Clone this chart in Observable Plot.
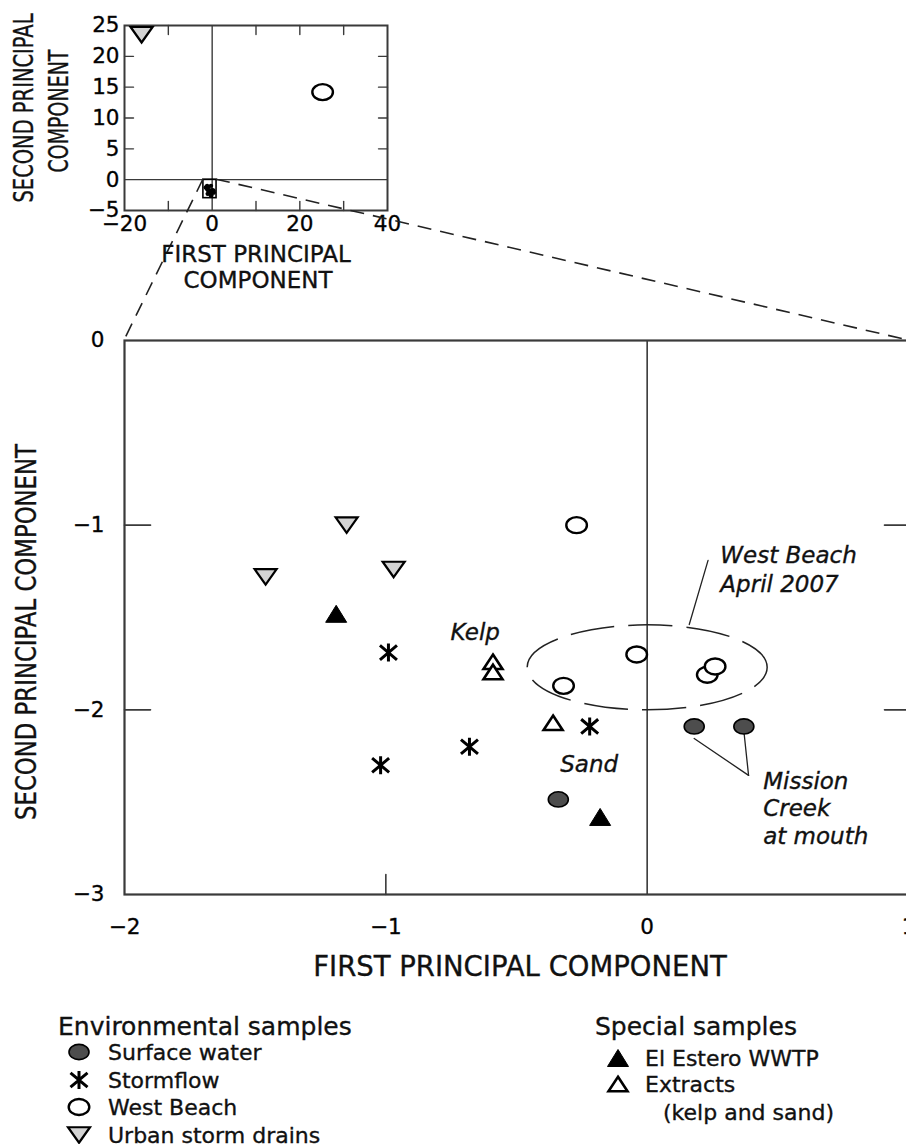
<!DOCTYPE html>
<html>
<head>
<meta charset="utf-8">
<script src="https://cdn.jsdelivr.net/npm/d3@7"></script>
<script src="https://cdn.jsdelivr.net/npm/@observablehq/plot@0.6"></script>
<style>
  html, body { margin: 0; padding: 0; background: #fff; overflow: hidden; }
  #fig { position: relative; width: 906px; height: 1144px; overflow: hidden; background: #fff; }
  #fig > svg { position: absolute; left: 0; top: 0; max-width: none !important; background: transparent !important; overflow: visible; }
  #fig text { stroke: #111; stroke-width: 0.35px; }
</style>
</head>
<body>
<div id="fig"></div>
<script>
// ---------------- DATA ----------------
const groups = ["Surface water", "Stormflow", "West Beach", "Urban storm drains", "El Estero WWTP", "Extracts"];
const surfaceWaterX = [0.18, 0.37, -0.34];
const surfaceWaterY = [-2.09, -2.09, -2.485];
const stormflowX = [-0.99, -0.68, -1.02, -0.22];
const stormflowY = [-1.69, -2.20, -2.30, -2.09];
const westBeachX = [-0.27, -0.04, -0.32, 0.23, 0.26];
const westBeachY = [-1.00, -1.70, -1.87, -1.81, -1.765];
const urbanX = [-1.15, -1.46, -0.97];
const urbanY = [-1.00, -1.28, -1.24];
const wwtpX = [-1.19, -0.18];
const wwtpY = [-1.48, -2.58];
const extractsX = [-0.59, -0.59, -0.36];
const extractsY = [-1.74, -1.795, -2.07];

// inset (full extent) values
const insetUrbanX = [-16.1];
const insetUrbanY = [23.5];
const insetWestBeachX = [25.2];
const insetWestBeachY = [14.2];

// axes
const xDomainMain = [-2, 1];
const yDomainMain = [-3, 0];
const xTickLabelsMain = [-2, -1, 0, 1];
const yTickLabelsMain = [0, -1, -2, -3];
const yTickMarksMain = [-1, -2];
const xTickMarksMain = [-1];
const xDomainInset = [-20, 40];
const yDomainInset = [-5, 25];
const xTickLabelsInset = [-20, 0, 20, 40];
const yTickLabelsInset = [-5, 0, 5, 10, 15, 20, 25];
const xTickMarksInset = [-10, 10, 20, 30];
const yTickMarksInset = [5, 10, 15, 20];

// annotation anchors
const ellipseCenter = [{x: 0, y: -1.77}];
const westBeachLabel = [{x: 0.28, y: -1.232, t: "West Beach\nApril 2007"}];
const westBeachLeader = [{x: 0.233, y: -1.191}, {x: 0.161, y: -1.538}];
const missionLabel = [{x: 0.444, y: -2.528, t: "Mission\nCreek\nat mouth"}];
const missionLeaderA = [{x: 0.180, y: -2.155}, {x: 0.388, y: -2.355}];
const missionLeaderB = [{x: 0.371, y: -2.128}, {x: 0.388, y: -2.355}];
const kelpLabel = [{x: -0.658, y: -1.581, t: "Kelp"}];
const sandLabel = [{x: -0.222, y: -2.296, t: "Sand"}];

// ---------------- helpers ----------------
const pts = (xs, ys) => xs.map((x, i) => ({x, y: ys[i]}));
const fmt = d => d < 0 ? "\u2212" + (-d) : String(d);
const SANS = "DejaVu Sans, Verdana, sans-serif";

function ellipseSym(rx, ry) {
  const k = 0.5523;
  return {draw(c) {
    c.moveTo(rx, 0);
    c.bezierCurveTo(rx, ry * k, rx * k, ry, 0, ry);
    c.bezierCurveTo(-rx * k, ry, -rx, ry * k, -rx, 0);
    c.bezierCurveTo(-rx, -ry * k, -rx * k, -ry, 0, -ry);
    c.bezierCurveTo(rx * k, -ry, rx, -ry * k, rx, 0);
    c.closePath();
  }};
}
function triUp(w, h) {
  return {draw(c) { c.moveTo(0, -h / 2); c.lineTo(w / 2, h / 2); c.lineTo(-w / 2, h / 2); c.closePath(); }};
}
function triDown(w, h) {
  return {draw(c) { c.moveTo(0, h / 2); c.lineTo(w / 2, -h / 2); c.lineTo(-w / 2, -h / 2); c.closePath(); }};
}
function asterisk(w, h) {
  return {draw(c) {
    c.moveTo(0, -h); c.lineTo(0, h);
    c.moveTo(-w, -h * 0.8); c.lineTo(w, h * 0.8);
    c.moveTo(w, -h * 0.8); c.lineTo(-w, h * 0.8);
  }};
}
const tickShape = {draw(c, l) { c.moveTo(0, 0); c.lineTo(0, -l); }};

// symbol styles
const S = {
  surface: {symbol: ellipseSym(10, 7.6), fill: "#4d4d4d", stroke: "#000", strokeWidth: 1.6},
  storm: {symbol: asterisk(8.5, 9), fill: "none", stroke: "#000", strokeWidth: 3},
  west: {symbol: ellipseSym(10.3, 8), fill: "#fff", stroke: "#000", strokeWidth: 2.4},
  urban: {symbol: triDown(22, 15.5), fill: "#d4d4d4", stroke: "#000", strokeWidth: 2.2, strokeLinejoin: "miter"},
  wwtp: {symbol: triUp(21, 17), fill: "#000", stroke: "#000", strokeWidth: 1, strokeLinejoin: "miter"},
  extract: {symbol: triUp(19, 14.5), fill: "#fff", stroke: "#000", strokeWidth: 2.6, strokeLinejoin: "miter"}
};

const FRAME = "#3a3a3a";

// ---------------- MAIN PLOT ----------------
const main = Plot.plot({
  width: 926, height: 1000,
  marginLeft: 124, marginRight: 18, marginTop: 340, marginBottom: 106,
  x: {domain: xDomainMain, axis: null},
  y: {domain: yDomainMain, axis: null},
  marks: [
    Plot.ruleX([0], {stroke: FRAME, strokeWidth: 1.6}),
    Plot.frame({stroke: FRAME, strokeWidth: 2.2}),
    Plot.vector(yTickMarksMain.map(v => ({x: xDomainMain[0], y: v})), {x: "x", y: "y", length: 26, rotate: 90, anchor: "start", shape: tickShape, stroke: FRAME, strokeWidth: 1.6}),
    Plot.vector(yTickMarksMain.map(v => ({x: xDomainMain[1], y: v})), {x: "x", y: "y", length: 24, rotate: -90, anchor: "start", shape: tickShape, stroke: FRAME, strokeWidth: 1.6}),
    Plot.vector(xTickMarksMain.map(v => ({x: v, y: yDomainMain[0]})), {x: "x", y: "y", length: 20, rotate: 0, anchor: "start", shape: tickShape, stroke: FRAME, strokeWidth: 1.6}),
    Plot.axisY(yTickLabelsMain, {tickSize: 0, tickPadding: 20, tickFormat: fmt, fontSize: 21.5, fontFamily: SANS, label: null}),
    Plot.axisX(xTickLabelsMain, {tickSize: 0, tickPadding: 24, tickFormat: fmt, fontSize: 21.5, fontFamily: SANS, label: null}),
    // dashed ellipse
    Plot.dot(ellipseCenter, {x: "x", y: "y", symbol: ellipseSym(120, 42.5), fill: "none", stroke: "#222", strokeWidth: 1.5, strokeDasharray: "44,14", strokeDashoffset: 20}),
    // leaders
    Plot.line(westBeachLeader, {x: "x", y: "y", stroke: "#222", strokeWidth: 1.3}),
    Plot.line(missionLeaderA, {x: "x", y: "y", stroke: "#222", strokeWidth: 1.3}),
    Plot.line(missionLeaderB, {x: "x", y: "y", stroke: "#222", strokeWidth: 1.3}),
    // points
    Plot.dot(pts(urbanX, urbanY), {x: "x", y: "y", ...S.urban}),
    Plot.dot(pts(wwtpX, wwtpY), {x: "x", y: "y", ...S.wwtp}),
    Plot.dot(pts(stormflowX, stormflowY), {x: "x", y: "y", ...S.storm}),
    Plot.dot(pts(extractsX, extractsY), {x: "x", y: "y", ...S.extract}),
    Plot.dot(pts(westBeachX, westBeachY), {x: "x", y: "y", ...S.west}),
    Plot.dot(pts(surfaceWaterX, surfaceWaterY), {x: "x", y: "y", ...S.surface}),
    // annotations
    Plot.text(kelpLabel, {x: "x", y: "y", text: "t", fontStyle: "italic", fontSize: 23, fontFamily: SANS, fill: "#111"}),
    Plot.text(sandLabel, {x: "x", y: "y", text: "t", fontStyle: "italic", fontSize: 23, fontFamily: SANS, fill: "#111"}),
    Plot.text(westBeachLabel, {x: "x", y: "y", text: "t", textAnchor: "start", lineHeight: 1.26, fontStyle: "italic", fontSize: 23, fontFamily: SANS, fill: "#111"}),
    Plot.text(missionLabel, {x: "x", y: "y", text: "t", textAnchor: "start", lineHeight: 1.2, fontStyle: "italic", fontSize: 23, fontFamily: SANS, fill: "#111"})
  ]
});

// ---------------- INSET PLOT ----------------
const allMainX = [].concat(surfaceWaterX, stormflowX, westBeachX, urbanX, wwtpX, extractsX);
const allMainY = [].concat(surfaceWaterY, stormflowY, westBeachY, urbanY, wwtpY, extractsY);
const inset = Plot.plot({
  width: 420, height: 300,
  marginLeft: 124, marginRight: 33, marginTop: 25, marginBottom: 90,
  x: {domain: xDomainInset, axis: null},
  y: {domain: yDomainInset, axis: null},
  marks: [
    Plot.ruleX([0], {stroke: FRAME, strokeWidth: 1.4}),
    Plot.ruleY([0], {stroke: FRAME, strokeWidth: 1.4}),
    Plot.frame({stroke: FRAME, strokeWidth: 2}),
    Plot.vector(yTickMarksInset.map(v => ({x: xDomainInset[0], y: v})), {x: "x", y: "y", length: 9, rotate: 90, anchor: "start", shape: tickShape, stroke: FRAME, strokeWidth: 1.4}),
    Plot.vector(yTickMarksInset.map(v => ({x: xDomainInset[1], y: v})), {x: "x", y: "y", length: 9, rotate: -90, anchor: "start", shape: tickShape, stroke: FRAME, strokeWidth: 1.4}),
    Plot.vector(xTickMarksInset.map(v => ({x: v, y: yDomainInset[0]})), {x: "x", y: "y", length: 9, rotate: 0, anchor: "start", shape: tickShape, stroke: FRAME, strokeWidth: 1.4}),
    Plot.vector(xTickMarksInset.map(v => ({x: v, y: yDomainInset[1]})), {x: "x", y: "y", length: 9, rotate: 180, anchor: "start", shape: tickShape, stroke: FRAME, strokeWidth: 1.4}),
    Plot.axisY(yTickLabelsInset, {tickSize: 0, tickPadding: 5, tickFormat: fmt, fontSize: 21.5, fontFamily: SANS, label: null}),
    Plot.axisX(xTickLabelsInset, {tickSize: 0, tickPadding: 5, tickFormat: fmt, fontSize: 21.5, fontFamily: SANS, label: null}),
    Plot.rect([{x1: xDomainMain[0], x2: xDomainMain[1], y1: yDomainMain[0], y2: yDomainMain[1]}], {x1: "x1", x2: "x2", y1: "y1", y2: "y2", fill: "none", stroke: "#000", strokeWidth: 1.6}),
    Plot.dot(pts(allMainX, allMainY), {x: "x", y: "y", r: 2.2, fill: "#000"}),
    Plot.dot(pts(insetUrbanX, insetUrbanY), {x: "x", y: "y", ...S.urban}),
    Plot.dot(pts(insetWestBeachX, insetWestBeachY), {x: "x", y: "y", ...S.west})
  ]
});

const fig = document.getElementById("fig");
fig.appendChild(main);
fig.appendChild(inset);

// ---------------- OVERLAY (connectors, titles, legend) ----------------
const ns = "http://www.w3.org/2000/svg";
const ov = document.createElementNS(ns, "svg");
ov.setAttribute("width", 906); ov.setAttribute("height", 1144);
ov.setAttribute("viewBox", "0 0 906 1144");
fig.appendChild(ov);
const ovSel = d3.select(ov).attr("font-family", SANS).attr("fill", "#111");

// connectors from zoom box in inset to main frame corners
const ix = inset.scale("x"), iy = inset.scale("y"), mx = main.scale("x"), my = main.scale("y");
[[xDomainMain[0], yDomainMain[1]], [xDomainMain[1], yDomainMain[1]]].forEach(([vx, vy]) => {
  ovSel.append("line")
    .attr("x1", ix.apply(vx)).attr("y1", iy.apply(vy))
    .attr("x2", mx.apply(vx)).attr("y2", my.apply(vy))
    .attr("stroke", "#222").attr("stroke-width", 1.6).attr("stroke-dasharray", "14,9");
});

function rotTitle(lines) {
  lines.forEach(l => {
    ovSel.append("text")
      .attr("transform", `translate(${l.bx},${l.cy}) rotate(-90) scale(${l.sx},1)`)
      .attr("text-anchor", "middle").attr("font-size", l.fs).text(l.t);
  });
}
rotTitle([
  {t: "SECOND PRINCIPAL COMPONENT", bx: 36, cy: 632, fs: 28.5, sx: 0.80},
  {t: "SECOND PRINCIPAL", bx: 33, cy: 108, fs: 26, sx: 0.75},
  {t: "COMPONENT", bx: 68, cy: 111, fs: 26, sx: 0.73}
]);
ovSel.append("text").attr("x", 520).attr("y", 976).attr("text-anchor", "middle").attr("font-size", 27.5).text("FIRST PRINCIPAL COMPONENT");
ovSel.append("text").attr("x", 256).attr("y", 262).attr("text-anchor", "middle").attr("font-size", 23).text("FIRST PRINCIPAL");
ovSel.append("text").attr("x", 258).attr("y", 288).attr("text-anchor", "middle").attr("font-size", 23).text("COMPONENT");

// legend
const legendLeft = [
  {label: groups[0], s: S.surface, cy: 1052},
  {label: groups[1], s: S.storm, cy: 1080},
  {label: groups[2], s: S.west, cy: 1107},
  {label: groups[3], s: S.urban, cy: 1135}
];
const legendRight = [
  {label: groups[4], s: S.wwtp, cy: 1058},
  {label: groups[5], s: S.extract, cy: 1084}
];
function legendBlock(title, tx, ty, items, sx, lx) {
  ovSel.append("text").attr("x", tx).attr("y", ty).attr("font-size", 25).text(title);
  items.forEach(it => {
    ovSel.append("path")
      .attr("d", d3.symbol(it.s.symbol, 64)())
      .attr("transform", `translate(${sx},${it.cy})`)
      .attr("fill", it.s.fill).attr("stroke", it.s.stroke)
      .attr("stroke-width", it.s.strokeWidth).attr("stroke-linejoin", "miter");
    ovSel.append("text").attr("x", lx).attr("y", it.cy + 8).attr("font-size", 22).text(it.label);
  });
}
legendBlock("Environmental samples", 58, 1035, legendLeft, 79, 108);
legendBlock("Special samples", 595, 1035, legendRight, 618, 645);
ovSel.append("text").attr("x", 663).attr("y", 1120).attr("font-size", 22).text("(kelp and sand)");
</script>
</body>
</html>
